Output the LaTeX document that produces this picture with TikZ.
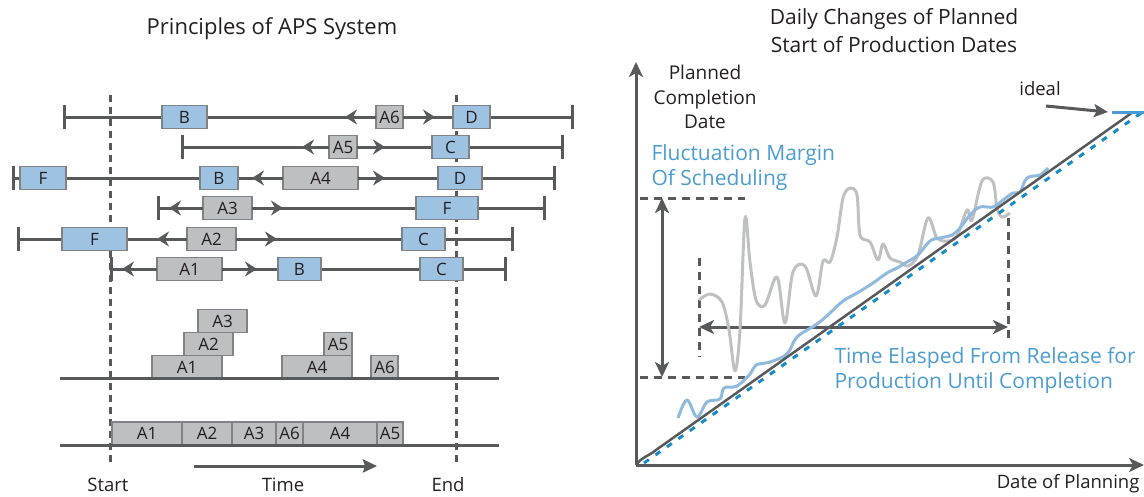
\documentclass[tikz,border=0pt]{standalone}
\usepackage{fontspec}
\setmainfont{Open Sans}
\usetikzlibrary{arrows.meta,positioning}

\definecolor{darkline}{RGB}{88,89,91}
\definecolor{inkgrey}{RGB}{35,31,32}
\definecolor{boxblue}{RGB}{158,195,226}
\definecolor{boxgrey}{RGB}{190,191,193}
\definecolor{boxedge}{RGB}{128,130,133}
\definecolor{textblue}{RGB}{74,156,210}
\definecolor{dotblue}{RGB}{22,140,200}
\definecolor{curveblue}{RGB}{143,186,221}
\definecolor{curvegrey}{RGB}{190,192,194}

\newcommand{\boxfont}{\fontsize{17}{19}\selectfont}
\newcommand{\labfont}{\fontsize{18.5}{24}\selectfont}

\begin{document}
\begin{tikzpicture}[x=1pt,y=-1pt,
    rowline/.style={draw=darkline, line width=3pt, {Bar[width=24pt]}-{Bar[width=24pt]}},
    baseline/.style={draw=darkline, line width=3pt},
    jobbox/.style={draw=boxedge, fill=boxgrey, line width=1.2pt, minimum height=23, inner sep=0, outer sep=0, text=inkgrey, font=\boxfont},
    resbox/.style={jobbox, fill=boxblue},
    tip/.style={draw=darkline, line width=3pt, -{Stealth[length=12pt,width=15pt,inset=4pt]}},
    limit/.style={draw=darkline, line width=3pt, dash pattern=on 7pt off 5pt},
    axis/.style={draw=darkline, line width=3pt, -{Stealth[length=15pt,width=14pt,inset=4pt]}},
    span/.style={draw=darkline, line width=3pt, {Stealth[length=15pt,width=14pt,inset=4pt]}-{Stealth[length=15pt,width=14pt,inset=4pt]}},
    guide/.style={draw=darkline, line width=3pt, dash pattern=on 8pt off 6pt},
    label/.style={text=inkgrey, font=\labfont},
    bluelabel/.style={text=textblue, font=\fontsize{21}{25}\selectfont, align=left, anchor=west}]

\useasboundingbox (0,0) rectangle (1144,496);

% Principles of APS System
\node[label, font=\fontsize{22}{24}\selectfont] (ltitle) at (272,29) {Principles of APS System};

% Start / End
\coordinate (starttop) at (110,95);
\coordinate (startbot) at (110,463);
\coordinate (endtop) at (456,95);
\coordinate (endbot) at (456,463);
\draw[limit] (starttop) -- (startbot);
\draw[limit] (endtop) -- (endbot);

% row 1
\coordinate (r1l) at (63,117);
\coordinate (r1r) at (574,117);
\draw[rowline] (r1l) -- (r1r);
\node[resbox, minimum width=45] (r1b) at (184.5,117) {B};
\node[jobbox, minimum width=27] (r1a6) at (389.5,117) {A6};
\node[resbox, minimum width=37] (r1d) at (471.5,117) {D};
\draw[tip] (r1a6.west) -- (345,117);
\draw[tip] (r1a6.east) -- (435,117);

% row 2
\coordinate (r2l) at (181,147);
\coordinate (r2r) at (564,147);
\draw[rowline] (r2l) -- (r2r);
\node[jobbox, minimum width=28] (r2a5) at (343,147) {A5};
\node[resbox, minimum width=37] (r2c) at (450.5,147) {C};
\draw[tip] (r2a5.west) -- (302,147);
\draw[tip] (r2a5.east) -- (385,147);

% row 3
\coordinate (r3l) at (12,178);
\coordinate (r3r) at (556,178);
\draw[rowline] (r3l) -- (r3r);
\node[resbox, minimum width=46] (r3f) at (43,178) {F};
\node[resbox, minimum width=38] (r3b) at (219,178) {B};
\node[jobbox, minimum width=75] (r3a4) at (320.5,178) {A4};
\node[resbox, minimum width=44] (r3d) at (460,178) {D};
\draw[tip] (r3a4.west) -- (252,178);
\draw[tip] (r3a4.east) -- (385,178);

% row 4
\coordinate (r4l) at (157,208);
\coordinate (r4r) at (546,208);
\draw[rowline] (r4l) -- (r4r);
\node[jobbox, minimum width=49] (r4a3) at (227.5,208) {A3};
\node[resbox, minimum width=62] (r4f) at (447,208) {F};
\draw[tip] (r4a3.west) -- (169,208);
\draw[tip] (r4a3.east) -- (283,208);

% row 5
\coordinate (r5l) at (17,239);
\coordinate (r5r) at (514,239);
\draw[rowline] (r5l) -- (r5r);
\node[resbox, minimum width=65] (r5f) at (94.5,239) {F};
\node[jobbox, minimum width=49] (r5a2) at (211.5,239) {A2};
\node[resbox, minimum width=43] (r5c) at (423.5,239) {C};
\draw[tip] (r5a2.west) -- (157,239);
\draw[tip] (r5a2.east) -- (277,239);

% row 6
\coordinate (r6l) at (110,269);
\coordinate (r6r) at (507,269);
\draw[rowline] (r6l) -- (r6r);
\node[jobbox, minimum width=65] (r6a1) at (189.5,269) {A1};
\node[resbox, minimum width=43] (r6b) at (299.5,269) {B};
\node[resbox, minimum width=43] (r6c) at (441.5,269) {C};
\draw[tip] (r6a1.west) -- (122,269);
\draw[tip] (r6a1.east) -- (257,269);

% load per time
\node[jobbox, minimum width=70] (s1a1) at (187,367) {A1};
\node[jobbox, minimum width=49] (s1a2) at (208.5,344) {A2};
\node[jobbox, minimum width=49] (s1a3) at (222.5,321) {A3};
\node[jobbox, minimum width=70] (s1a4) at (317,367) {A4};
\node[jobbox, minimum width=28] (s1a5) at (338,344) {A5};
\node[jobbox, minimum width=27] (s1a6) at (384.5,367) {A6};
\coordinate (b1l) at (60,378);
\coordinate (b1r) at (499,378);
\draw[baseline] (b1l) -- (b1r);

% sequence
\node[jobbox, minimum width=70] (s2a1) at (147,433.5) {A1};
\node[jobbox, minimum width=50, right=0pt of s2a1] (s2a2) {A2};
\node[jobbox, minimum width=44, right=0pt of s2a2] (s2a3) {A3};
\node[jobbox, minimum width=27, right=0pt of s2a3] (s2a6) {A6};
\node[jobbox, minimum width=74, right=0pt of s2a6] (s2a4) {A4};
\node[jobbox, minimum width=26, right=0pt of s2a4] (s2a5) {A5};
\coordinate (b2l) at (60,445);
\coordinate (b2r) at (499,445);
\draw[baseline] (b2l) -- (b2r);

% time arrow
\coordinate (timel) at (194,466);
\coordinate (timer) at (377,466);
\draw[draw=darkline, line width=3pt, -{Stealth[length=14pt,width=13pt,inset=2pt]}] (timel) -- (timer);
\node[label] (lstart) at (108,485) {Start};
\node[label] (ltime) at (283,485) {Time};
\node[label] (lend) at (448,485) {End};

% Daily Changes of Planned Start of Production Dates
\node[label, font=\fontsize{21}{28}\selectfont, align=center] (rtitle) at (894,31) {Daily Changes of Planned\\Start of Production Dates};

% axes
\coordinate (o) at (636,465);
\coordinate (ytop) at (636,62);
\coordinate (xend) at (1144,465);
\draw[axis] (o) -- (ytop);
\draw[axis] (o) -- (xend);
\node[label, align=center, font=\fontsize{19}{24.5}\selectfont] (ylab) at (705,97) {Planned\\Completion\\Date};
\node[label, anchor=east] (xlab) at (1143,484) {Date of Planning};

% margin of scheduling
\coordinate (fmtl) at (640,198);
\coordinate (fmtr) at (745,198);
\coordinate (fmbl) at (640,377);
\coordinate (fmbr) at (745,377);
\coordinate (fmtop) at (662,198);
\coordinate (fmbot) at (662,377);
\draw[guide] (fmtl) -- (fmtr);
\draw[guide] (fmbl) -- (fmbr);
\draw[span] (fmtop) -- (fmbot);
\node[bluelabel] (fmlab) at (648,168) {Fluctuation Margin\\Of Scheduling};

% time elapsed
\coordinate (tel) at (699,258);
\coordinate (telb) at (699,357);
\coordinate (ter) at (1008,218);
\coordinate (terb) at (1008,338);
\coordinate (tea) at (699,327);
\coordinate (teb) at (1008,327);
\draw[guide] (tel) -- (telb);
\draw[guide] (ter) -- (terb);
\draw[span] (tea) -- (teb);
\node[bluelabel] (telab) at (831,370) {Time Elasped From Release for\\Production Until Completion};

% planned dates (grey)
\draw[curvegrey, line width=3pt, line join=round] plot[smooth, tension=0.55] coordinates {
  (699,300) (710,294) (722,302) (729,330) (735,371) (740,330) (745,218)
  (750,262) (756,300) (765,305) (777,277) (785,323) (793,272) (805,266)
  (816,296) (823,261) (830,262) (837,237) (843,198) (850,188) (857,195)
  (860,235) (870,242) (878,260) (883,244) (890,258) (900,262) (908,266)
  (918,255) (928,218) (937,238) (948,241) (957,236) (967,210) (972,220)
  (982,181) (993,182) (997,208) (1002,217) (1010,213)};

% actual dates (blue)
\draw[curveblue, line width=3pt, line join=round] plot[smooth, tension=0.6] coordinates {
  (678,418) (687,400) (697,417) (707,402) (720,399) (724,388) (737,386)
  (750,374) (756,365) (770,362) (787,354) (797,337) (817,324) (830,313)
  (843,301) (857,293) (873,283) (887,273) (897,268) (907,262) (918,255)
  (930,241) (940,238) (952,235) (960,228) (970,215) (980,207) (993,207)
  (1003,200) (1013,193) (1020,192) (1027,178) (1040,175) (1048,168)};

% ideal
\coordinate (idl) at (644,463);
\coordinate (idr) at (1144,111);
\draw[dotblue, line width=3pt, dash pattern=on 6pt off 8pt] (idl) -- (idr);
\coordinate (diagend) at (1133,112);
\draw[darkline, line width=2.5pt] (o) to[out=55,in=220] (656,450) -- (diagend);
\coordinate (idealarr) at (1108,112);
\node[label] (lideal) at (1040,89) {ideal};
\draw[draw=darkline, line width=3pt, -{Stealth[length=14pt,width=13pt,inset=3pt]}] (1046,106) -- (idealarr);
\coordinate (idealend) at (1144,112);
\draw[textblue, line width=3pt] (1112,112) -- (idealend);

\end{tikzpicture}
\end{document}
